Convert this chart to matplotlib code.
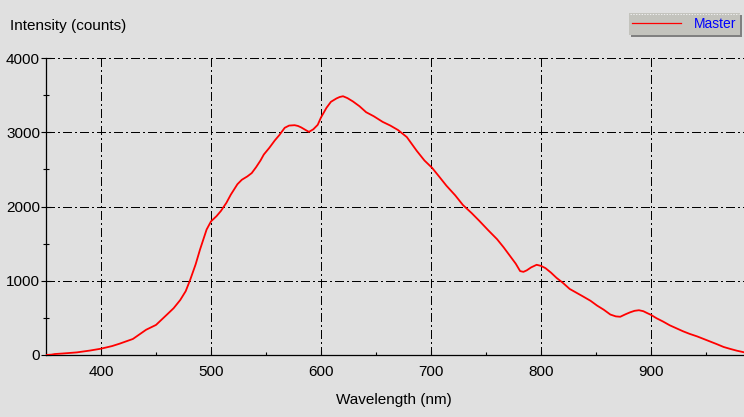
import matplotlib
matplotlib.use('Agg')
import matplotlib.pyplot as plt
from matplotlib.patches import Rectangle
from matplotlib.lines import Line2D
from matplotlib.ticker import MultipleLocator

# spectrum (wavelength in nm, intensity in counts)
wavelength = [350, 355, 358, 365, 378, 390, 400, 410, 417, 429, 441, 450, 460, 466, 472,
              477, 481, 486, 490, 496, 500, 505, 509, 514, 518, 524, 528, 533, 537, 541,
              545, 548, 553, 558, 562, 567, 571, 576, 579, 582, 586, 589, 593, 597, 600,
              605, 609, 614, 617, 620, 624, 629, 635, 641, 648, 656, 663, 670, 678, 687,
              694, 701, 707, 714, 722, 729, 737, 744, 752, 760, 766, 772, 777, 781, 784,
              787, 791, 796, 800, 804, 809, 814, 820, 826, 832, 838, 845, 851, 857, 863,
              868, 872, 877, 881, 885, 889, 893, 896, 900, 905, 911, 917, 923, 929, 935,
              942, 948, 954, 960, 966, 972, 978, 985]
intensity = [0, 5, 13, 20, 35, 60, 85, 120, 153, 216, 340, 405, 545, 630, 740,
             860, 1010, 1220, 1420, 1690, 1800, 1870, 1940, 2050, 2160, 2300, 2360, 2405, 2450, 2530,
             2620, 2700, 2790, 2890, 2960, 3060, 3090, 3095, 3085, 3065, 3030, 3005, 3040, 3100, 3200,
             3330, 3410, 3455, 3475, 3485, 3460, 3415, 3350, 3270, 3215, 3140, 3090, 3030, 2935, 2750,
             2620, 2520, 2410, 2280, 2150, 2020, 1910, 1805, 1680, 1560, 1450, 1330, 1230, 1130, 1120,
             1140, 1180, 1215, 1200, 1170, 1110, 1040, 970, 890, 840, 790, 730, 665, 610, 545,
             520, 515, 550, 575, 595, 603, 590, 568, 540, 495, 450, 400, 360, 320, 285,
             250, 215, 180, 145, 108, 82, 58, 35]

x_label = 'Wavelength (nm)'
y_label = 'Intensity (counts)'
legend_label = 'Master'

W, H = 744, 417
bg = '#e0e0e0'

plt.rcParams['font.family'] = ['Liberation Sans', 'DejaVu Sans']
plt.rcParams['lines.scale_dashes'] = False

fig = plt.figure(figsize=(W / 100, H / 100), dpi=100, facecolor=bg)

# axes box in pixels: left 46, bottom 355, top 58, right edge of image
ax = fig.add_axes([46 / W, (H - 355) / H, (W - 46) / W, (355 - 58) / H])
ax.set_facecolor(bg)

ax.plot(wavelength, intensity, color='#ff0000', lw=1.3, zorder=3)

ax.set_xlim(350, 984.5)
ax.set_ylim(0, 4000)

ax.xaxis.set_major_locator(MultipleLocator(100))
ax.xaxis.set_minor_locator(MultipleLocator(50))
ax.yaxis.set_major_locator(MultipleLocator(1000))
ax.yaxis.set_minor_locator(MultipleLocator(500))
ax.set_xticks([t for t in range(400, 1000, 100)])

# dash-dot grid, 8px dash / 3px gap / 1px dot / 3px gap, crisp like the original
dash = (0, (5.8, 2.2, 0.8, 2.2))
ax.grid(True, which='major', color='black', lw=0.75, linestyle=dash)
for gl in ax.get_xgridlines() + ax.get_ygridlines():
    gl.set_antialiased(False)

for s in ['top', 'right']:
    ax.spines[s].set_visible(False)
for s in ['left', 'bottom']:
    ax.spines[s].set_linewidth(0.9)

ax.tick_params(axis='y', which='major', direction='inout', length=7.5, width=0.8,
               labelsize=11, pad=0.5)
ax.tick_params(axis='y', which='minor', direction='inout', length=3.8, width=0.8)
ax.tick_params(axis='x', which='major', direction='in', length=3.6, width=0.8,
               labelsize=11, pad=7)
ax.tick_params(axis='x', which='minor', direction='in', length=2.4, width=0.8)

fig.text(10 / W, 1 - 26 / H, y_label, fontsize=11, ha='left', va='center')
fig.text(394 / W, 1 - 400 / H, x_label, fontsize=11, ha='center', va='center')

# legend button at top right
def px_rect(x0, y0, x1, y1, **kw):
    return Rectangle((x0 / W, 1 - y1 / H), (x1 - x0) / W, (y1 - y0) / H,
                     transform=fig.transFigure, **kw)

fig.patches.append(px_rect(631, 15, 742, 37, facecolor='#808080', edgecolor='none'))
fig.patches.append(px_rect(629, 13, 740, 35, facecolor='#c3c3bd', edgecolor='none'))
fig.lines.append(Line2D([630 / W, 739 / W], [1 - 14 / H, 1 - 14 / H], transform=fig.transFigure,
                        color='#f0f0f0', lw=0.7, linestyle=(0, (1, 1))))
fig.lines.append(Line2D([632 / W, 681 / W], [1 - 23 / H, 1 - 23 / H], transform=fig.transFigure,
                        color='#ff0000', lw=0.9))
fig.text(736 / W, 1 - 24 / H, legend_label, fontsize=10, color='#0000ff', ha='right', va='center')

fig.savefig('out.png', dpi=100, facecolor=bg)
